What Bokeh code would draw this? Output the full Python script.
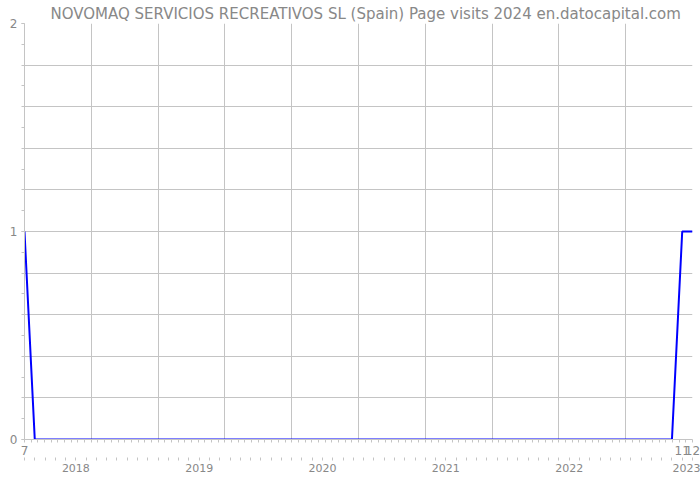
from bokeh.plotting import figure
from bokeh.models import LinearAxis, FixedTicker, Range1d, Legend, LegendItem
from bokeh.embed import file_html
from bokeh.resources import INLINE

title_text = "NOVOMAQ SERVICIOS RECREATIVOS SL (Spain) Page visits 2024 en.datocapital.com"
series_name = "Visits"
start_year, start_month = 2018, 7
visits = [1, 0, 0, 0, 0, 0,
          0, 0, 0, 0, 0, 0, 0, 0, 0, 0, 0, 0,
          0, 0, 0, 0, 0, 0, 0, 0, 0, 0, 0, 0,
          0, 0, 0, 0, 0, 0, 0, 0, 0, 0, 0, 0,
          0, 0, 0, 0, 0, 0, 0, 0, 0, 0, 0, 0,
          0, 0, 0, 0, 0, 0, 0, 0, 0, 0, 1, 1]
y_tick_values = [0, 1, 2]
shown_month_labels = ["7", "11", "12"]

months = []
y, m = start_year, start_month
for _ in visits:
    months.append((y, m))
    m += 1
    if m > 12:
        m = 1
        y += 1
idx = list(range(len(visits)))
n = len(visits) - 1

FONT = "DejaVu Sans"
GREY = "#888888"
GRID = "#c4c4c4"

p = figure(frame_width=668, frame_height=416, x_range=Range1d(0, n), y_range=Range1d(0, 2),
           output_backend="svg", toolbar_location=None, x_axis_location=None,
           min_border_left=24, min_border_right=8, min_border_top=23, min_border_bottom=0)
p.outline_line_color = None
p.background_fill_color = "white"

p.title.text = title_text
p.title.align = "left"
p.title.offset = 26
p.title.text_font = FONT
p.title.text_font_size = "15px"
p.title.text_font_style = "normal"
p.title.text_color = GREY
p.title.standoff = 2

ya = p.yaxis[0]
ya.ticker = FixedTicker(ticks=y_tick_values, minor_ticks=[i * 0.1 for i in range(21)])
ya.axis_line_color = GRID
ya.major_tick_line_color = GRID
ya.major_tick_out = 3
ya.major_tick_in = 0
ya.minor_tick_line_color = GRID
ya.minor_tick_out = 3
ya.minor_tick_in = 0
ya.major_label_text_font = FONT
ya.major_label_text_font_size = "12px"
ya.major_label_text_color = GREY
ya.major_label_standoff = 4
p.ygrid.ticker = FixedTicker(ticks=[i * 0.2 for i in range(11)])
p.ygrid.grid_line_color = GRID
p.xgrid.ticker = FixedTicker(ticks=[i * n / 10 for i in range(11)])
p.xgrid.grid_line_color = GRID

month_ticks = [i for i, (yy, mm) in enumerate(months) if str(mm) in shown_month_labels and (i == 0 or i >= n - 1)]
xa1 = LinearAxis(ticker=FixedTicker(ticks=month_ticks, minor_ticks=[i * n / 100 for i in range(101)]),
                 major_label_overrides={i: str(months[i][1]) for i in month_ticks})
xa1.axis_line_color = GRID
xa1.major_tick_line_color = None
xa1.minor_tick_line_color = GRID
xa1.minor_tick_out = 3
xa1.minor_tick_in = 0
xa1.major_label_text_font = FONT
xa1.major_label_text_font_size = "12px"
xa1.major_label_text_color = GREY
xa1.major_label_standoff = 0
p.add_layout(xa1, "below")

year_ticks = [i for i, (yy, mm) in enumerate(months) if mm == 12]
xa2 = LinearAxis(ticker=FixedTicker(ticks=year_ticks, minor_ticks=idx),
                 major_label_overrides={i: str(months[i][0]) for i in year_ticks})
xa2.axis_line_color = None
xa2.major_tick_line_color = None
xa2.minor_tick_line_color = GRID
xa2.minor_tick_out = 3
xa2.minor_tick_in = 0
xa2.major_label_text_font = FONT
xa2.major_label_text_font_size = "11px"
xa2.major_label_text_color = GREY
xa2.major_label_standoff = 0
p.add_layout(xa2, "below")

r = p.line(idx, visits, line_color="#0000ff", line_width=2)

legend = Legend(items=[LegendItem(label=series_name, renderers=[r])], location="top_center",
                orientation="horizontal", border_line_color=None, background_fill_alpha=0,
                label_text_font=FONT, label_text_font_size="11.5px", label_text_color=GREY,
                glyph_width=16, glyph_height=14, label_height=14, padding=2, margin=5,
                label_standoff=2)
p.add_layout(legend, "below")

open("out.html", "w").write(file_html(p, INLINE))
